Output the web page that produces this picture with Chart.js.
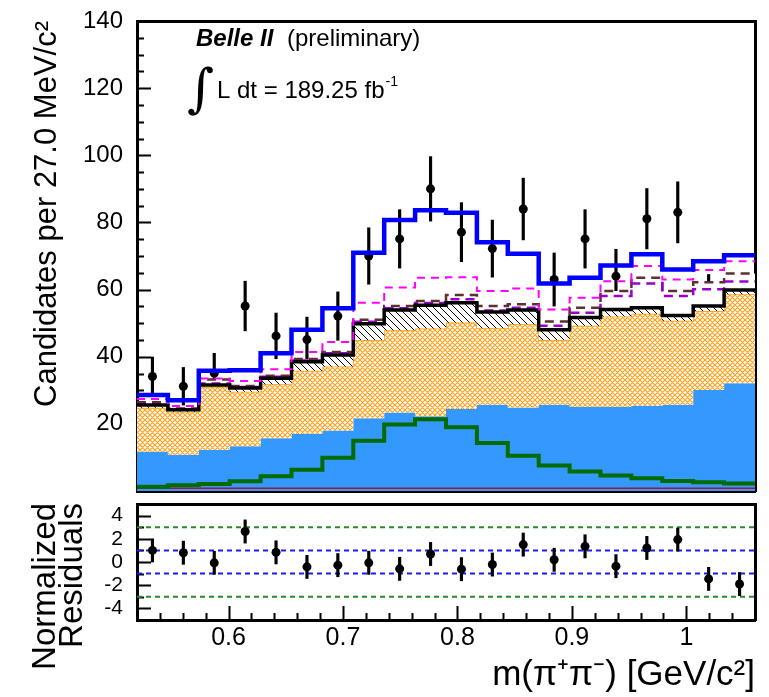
<!DOCTYPE html>
<html>
<head>
<meta charset="utf-8">
<script src="https://cdn.jsdelivr.net/npm/chart.js@4.4.1/dist/chart.umd.min.js"></script>
<style>
  body { margin: 0; background: #fff; }
  #wrap { position: relative; width: 769px; height: 697px; }
  canvas { position: absolute; left: 0; }
  #top { top: 0; }
  #bot { top: 497px; }
</style>
</head>
<body>
<div id="wrap">
  <canvas id="top" width="769" height="497"></canvas>
  <canvas id="bot" width="769" height="200"></canvas>
</div>
<script>
// bin edges / centres of m(pi+ pi-) in GeV/c^2 (27 MeV bins)
const binEdges = [0.520, 0.547, 0.574, 0.601, 0.628, 0.655, 0.682, 0.709, 0.736, 0.763, 0.790,
                  0.817, 0.844, 0.871, 0.898, 0.925, 0.952, 0.979, 1.006, 1.033, 1.060];
const binCenters = [0.5335, 0.5605, 0.5875, 0.6145, 0.6415, 0.6685, 0.6955, 0.7225, 0.7495, 0.7765,
                    0.8035, 0.8305, 0.8575, 0.8845, 0.9115, 0.9385, 0.9655, 0.9925, 1.0195, 1.0465];

// data points
const dataCounts = [34.1, 31.2, 35.1, 55.1, 46.2, 45.1, 52.1, 70.0, 75.1, 90.0,
                    77.1, 72.2, 84.0, 63.0, 75.1, 64.0, 81.1, 83.0, 57.2, 55.0];
const dataErrors = [5.8, 5.6, 5.9, 7.4, 6.8, 6.7, 7.2, 8.4, 8.7, 9.6,
                    8.8, 8.5, 9.2, 7.9, 8.7, 8.0, 9.0, 9.1, 7.3, 7.4];

// stacked fit components (cumulative tops)
const totalFit  = [28.6, 27.0, 35.8, 36.0, 41.0, 48.0, 54.4, 71.0, 80.7, 83.6,
                   82.9, 74.1, 70.7, 61.8, 63.5, 67.2, 70.5, 66.0, 68.4, 70.2];
const pinkTop   = [27.4, 25.3, 33.5, 32.8, 36.3, 41.4, 44.4, 56.1, 60.6, 63.5,
                   63.7, 59.6, 60.3, 54.1, 57.6, 62.5, 67.0, 63.0, 65.8, 68.4];
const brownTop  = [26.4, 24.6, 33.2, 31.3, 34.3, 39.3, 41.4, 51.0, 55.1, 56.6,
                   58.4, 55.1, 55.6, 50.5, 54.6, 59.6, 63.5, 59.6, 62.2, 64.8];
const purpleTop = [25.9, 24.4, 32.0, 31.0, 34.0, 38.9, 41.0, 50.4, 54.4, 56.0,
                   57.1, 53.8, 54.6, 49.2, 53.1, 58.1, 61.8, 58.1, 60.1, 62.4];
const hatchTop  = [25.6, 24.2, 31.6, 30.7, 33.6, 38.5, 40.5, 49.8, 53.9, 55.3,
                   56.1, 53.3, 53.9, 48.0, 51.7, 54.1, 54.6, 52.3, 55.1, 59.9];
const orangeTop = [24.8, 23.6, 31.0, 29.6, 31.8, 35.8, 37.1, 45.0, 47.9, 48.4,
                   50.2, 48.5, 49.7, 45.0, 49.2, 52.0, 52.8, 50.7, 53.6, 58.6];
const azureTop  = [11.7, 10.8, 12.3, 13.3, 15.7, 17.0, 18.0, 21.7, 23.4, 22.3,
                   24.4, 25.7, 24.9, 25.7, 25.1, 25.1, 25.4, 25.7, 30.1, 32.1];
const greenLine = [1.3, 1.7, 2.1, 2.9, 4.4, 6.3, 9.9, 15.0, 19.8, 21.4,
                   19.0, 14.3, 10.5, 7.6, 5.8, 4.6, 3.8, 3.0, 2.6, 2.2];
const redLine   = [0.8, 0.8, 0.8, 0.8, 0.8, 0.8, 0.8, 0.8, 0.8, 0.8,
                   0.8, 0.8, 0.8, 0.8, 0.8, 0.8, 0.8, 0.8, 0.8, 0.8];

// residual panel
const residuals = [1.0, 0.8, -0.07, 2.63, 0.83, -0.42, -0.27, -0.07, -0.59, 0.69,
                   -0.62, -0.22, 1.5, 0.19, 1.35, -0.36, 1.21, 1.93, -1.46, -1.9];
const residualErr = [1, 1, 1, 1, 1, 1, 1, 1, 1, 1, 1, 1, 1, 1, 1, 1, 1, 1, 1, 1];
const outerBand = [-3, 3];
const innerBand = [-1, 1];

// tick labels and tick marks
const countTicks = [20, 40, 60, 80, 100, 120, 140];
const countMinorTicks = [5, 10, 15, 25, 30, 35, 45, 50, 55, 65, 70, 75, 85, 90, 95,
                         105, 110, 115, 125, 130, 135];
const residualTicks = [-4, -2, 0, 2, 4];
const residualMinorTicks = [-3, -1, 1, 3];
const massTicks = [0.6, 0.7, 0.8, 0.9, 1.0];
const massMinorTicks = [0.54, 0.56, 0.58, 0.62, 0.64, 0.66, 0.68, 0.72, 0.74, 0.76, 0.78,
                        0.82, 0.84, 0.86, 0.88, 0.92, 0.94, 0.96, 0.98, 1.02, 1.04];

Chart.defaults.font.family = "'Liberation Sans', Arial, sans-serif";
Chart.defaults.color = '#000';

function steps(vals) {
  const pts = vals.map((v, i) => ({ x: binEdges[i], y: v }));
  pts.push({ x: binEdges[vals.length], y: vals[vals.length - 1] });
  return pts;
}

function makePattern(canvasId, size, bg, color, width, cross) {
  const c = document.createElement('canvas');
  c.width = size; c.height = size;
  const g = c.getContext('2d');
  g.fillStyle = bg; g.fillRect(0, 0, size, size);
  g.strokeStyle = color; g.lineWidth = width;
  g.beginPath();
  g.moveTo(-1, -1); g.lineTo(size + 1, size + 1);
  g.moveTo(-1, size - 1); g.lineTo(1, size + 1);
  g.moveTo(size - 1, -1); g.lineTo(size + 1, 1);
  if (cross) {
    g.moveTo(-1, size + 1); g.lineTo(size + 1, -1);
    g.moveTo(-1, 1); g.lineTo(1, -1);
    g.moveTo(size - 1, size + 1); g.lineTo(size + 1, size - 1);
  }
  g.stroke();
  return document.getElementById(canvasId).getContext('2d').createPattern(c, 'repeat');
}

const crossFill = makePattern('top', 5, '#ffffff', '#ffa220', 1.2, true);
const hatchFill = makePattern('top', 7, '#ffffff', '#000000', 1, false);

// fixed axis sizes, no label overflow padding
const fixSize = (w, h) => s => {
  if (w !== null) s.width = w;
  if (h !== null) s.height = h;
  s.paddingTop = 0; s.paddingBottom = 0; s.paddingLeft = 0; s.paddingRight = 0;
};
const setTicks = list => s => { s.ticks = list.map(v => ({ value: v })); };

const frameAxis = (axis, position) => ({
  type: 'linear', position: position, weight: 0, z: 1, offset: false,
  min: axis === 'x' ? 0.52 : 0, max: axis === 'x' ? 1.06 : 1,
  ticks: { display: false }, grid: { display: false, drawTicks: false },
  border: { display: true, color: '#000', width: 3 },
  afterFit: axis === 'x' ? fixSize(null, 0) : fixSize(0, null)
});

// ROOT style inward ticks, placed with the chart's own scales
const tickMarks = {
  id: 'tickMarks',
  beforeDatasetsDraw(chart, args, opts) {
    const ctx = chart.ctx;
    const a = chart.chartArea;
    ctx.save();
    ctx.strokeStyle = '#000';
    ctx.lineWidth = 2;
    ctx.beginPath();
    (opts.y || []).forEach(([vals, len]) => vals.forEach(v => {
      const p = Math.round(chart.scales.y.getPixelForValue(v)) + 0.5;
      ctx.moveTo(a.left, p); ctx.lineTo(a.left + len, p);
    }));
    (opts.x || []).forEach(([vals, len]) => vals.forEach(v => {
      const p = Math.round(chart.scales.x.getPixelForValue(v)) + 0.5;
      ctx.moveTo(p, a.bottom); ctx.lineTo(p, a.bottom - len);
    }));
    ctx.stroke();
    ctx.restore();
  }
};

const textPlugin = {
  id: 'belleText',
  afterDraw(chart) {
    const ctx = chart.ctx;
    ctx.save();
    ctx.fillStyle = '#000';
    ctx.textBaseline = 'alphabetic';
    ctx.font = "italic bold 24px 'Liberation Sans'";
    ctx.fillText('Belle II', 196, 46);
    ctx.font = "24px 'Liberation Sans'";
    ctx.fillText('(preliminary)', 287, 46);
    ctx.font = "52px 'DejaVu Serif'";
    ctx.fillText('\u222B', 187, 106);
    ctx.font = "24px 'Liberation Sans'";
    const lumi = 'L dt = 189.25 fb';
    ctx.fillText(lumi, 217, 98);
    const w = ctx.measureText(lumi).width;
    ctx.font = "14px 'Liberation Sans'";
    ctx.fillText('-1', 217 + w + 1, 86);
    ctx.restore();
  }
};

new Chart(document.getElementById('top'), {
  type: 'line',
  data: {
    datasets: [
      { type: 'bar', data: binCenters.map((x, i) => ({ x: x, y: [dataCounts[i] - dataErrors[i], dataCounts[i] + dataErrors[i]] })),
        backgroundColor: '#000', borderWidth: 0, barThickness: 2.5, order: 30 },
      { data: binCenters.map((x, i) => ({ x: x, y: dataCounts[i] })), showLine: false,
        pointRadius: 4.5, pointBackgroundColor: '#000', pointBorderWidth: 0, order: 29 },
      { data: steps(brownTop), stepped: true, borderColor: '#5e2f2f', borderWidth: 2.5, borderDash: [9, 6],
        fill: 'origin', backgroundColor: '#ffffff', pointRadius: 0, order: 28 },
      { data: steps(purpleTop), stepped: true, borderColor: '#9a00cc', borderWidth: 2.5, borderDash: [9, 6],
        fill: false, pointRadius: 0, order: 27 },
      { data: steps(azureTop), stepped: true, borderColor: '#3399ff', borderWidth: 0,
        fill: 'origin', backgroundColor: '#3399ff', pointRadius: 0, order: 26 },
      { data: steps(orangeTop), stepped: true, borderColor: '#ff9a00', borderWidth: 1.5,
        fill: 4, backgroundColor: crossFill, pointRadius: 0, order: 25 },
      { data: steps(hatchTop), stepped: true, borderColor: '#000', borderWidth: 3.5,
        fill: 5, backgroundColor: hatchFill, pointRadius: 0, order: 24 },
      { data: steps(redLine), stepped: true, borderColor: '#b01030', borderWidth: 1.5,
        fill: false, pointRadius: 0, order: 23 },
      { data: steps(greenLine), stepped: true, borderColor: '#006b00', borderWidth: 4,
        fill: false, pointRadius: 0, order: 22 },
      { data: steps(pinkTop), stepped: true, borderColor: '#ff00ff', borderWidth: 2, borderDash: [8, 6],
        fill: false, pointRadius: 0, order: 21 },
      { data: steps(totalFit), stepped: true, borderColor: '#0000ff', borderWidth: 4.5,
        fill: false, pointRadius: 0, order: 20 }
    ]
  },
  options: {
    responsive: false,
    animation: false,
    events: [],
    devicePixelRatio: 1,
    layout: { padding: { top: 21, right: 14, left: 0, bottom: 0 } },
    plugins: {
      legend: { display: false }, tooltip: { enabled: false },
      tickMarks: { y: [[countTicks, 14], [countMinorTicks, 7]] }
    },
    scales: {
      x: { type: 'linear', min: 0.52, max: 1.06, position: 'bottom', z: 1, offset: false,
           ticks: { display: false }, grid: { display: false, drawTicks: false, offset: false },
           border: { display: true, color: '#000', width: 3 },
           afterFit: fixSize(null, 6) },
      y: { type: 'linear', min: 0, max: 140, position: 'left', weight: 10,
           afterBuildTicks: setTicks(countTicks),
           ticks: { padding: 14, color: '#000', font: { size: 24 } },
           grid: { display: false, drawTicks: false },
           border: { display: false },
           title: { display: true, text: 'Candidates per 27.0 MeV/c\u00B2', align: 'end', color: '#000',
                    font: { size: 31 }, padding: { top: 29, bottom: 0 } },
           afterFit: fixSize(137, null) },
      xFrame: frameAxis('x', 'top'),
      yFrameL: frameAxis('y', 'left'),
      yFrameR: frameAxis('y', 'right')
    }
  },
  plugins: [tickMarks, textPlugin]
});

const residualTitle = {
  id: 'residualTitle',
  afterDraw(chart) {
    const ctx = chart.ctx;
    ctx.save();
    ctx.fillStyle = '#000';
    ctx.font = "33px 'Liberation Sans'";
    ctx.textAlign = 'right';
    ctx.textBaseline = 'middle';
    ctx.translate(46, chart.chartArea.top - 1);
    ctx.rotate(-Math.PI / 2);
    ctx.fillText('Normalized', 0, 0);
    ctx.fillText('Residuals', 0, 27);
    ctx.restore();
  }
};

const bandLine = (y, color) => ({
  data: [{ x: 0.52, y: y }, { x: 1.06, y: y }], borderColor: color, borderWidth: 2,
  borderDash: [5, 4], pointRadius: 0, fill: false, order: 10
});

new Chart(document.getElementById('bot'), {
  type: 'line',
  data: {
    datasets: [
      bandLine(outerBand[0], '#2a8a2a'),
      bandLine(outerBand[1], '#2a8a2a'),
      bandLine(innerBand[0], '#1a1aff'),
      bandLine(innerBand[1], '#1a1aff'),
      { type: 'bar', data: binCenters.map((x, i) => ({ x: x, y: [residuals[i] - residualErr[i], residuals[i] + residualErr[i]] })),
        backgroundColor: '#000', borderWidth: 0, barThickness: 2.5, order: 5 },
      { data: binCenters.map((x, i) => ({ x: x, y: residuals[i] })), showLine: false,
        pointRadius: 4.5, pointBackgroundColor: '#000', pointBorderWidth: 0, order: 4 }
    ]
  },
  options: {
    responsive: false,
    animation: false,
    events: [],
    devicePixelRatio: 1,
    layout: { padding: { top: 7, right: 14, left: 0, bottom: 0 } },
    plugins: {
      legend: { display: false }, tooltip: { enabled: false },
      tickMarks: { y: [[residualTicks, 14], [residualMinorTicks, 7]], x: [[massTicks, 14], [massMinorTicks, 7]] }
    },
    scales: {
      x: { type: 'linear', min: 0.52, max: 1.06, position: 'bottom', weight: 10, offset: false, z: 1,
           afterBuildTicks: setTicks(massTicks),
           ticks: { padding: 3, color: '#000', font: { size: 25 }, maxRotation: 0, autoSkip: false,
                    callback: v => String(Number(v.toFixed(2))) },
           grid: { display: false, drawTicks: false, offset: false },
           border: { display: true, color: '#000', width: 3 },
           title: { display: true, text: 'm(\u03C0\u207A\u03C0\u207B) [GeV/c\u00B2]', align: 'end', color: '#000',
                    font: { size: 35 }, padding: { top: 0, bottom: 1 } },
           afterFit: fixSize(null, 77) },
      y: { type: 'linear', min: -5, max: 5, position: 'left', weight: 10,
           afterBuildTicks: setTicks(residualTicks),
           ticks: { padding: 14, color: '#000', font: { size: 21 } },
           grid: { display: false, drawTicks: false },
           border: { display: false },
           afterFit: fixSize(137, null) },
      xFrame: frameAxis('x', 'top'),
      yFrameL: frameAxis('y', 'left'),
      yFrameR: frameAxis('y', 'right')
    }
  },
  plugins: [tickMarks, residualTitle]
});
</script>
</body>
</html>
